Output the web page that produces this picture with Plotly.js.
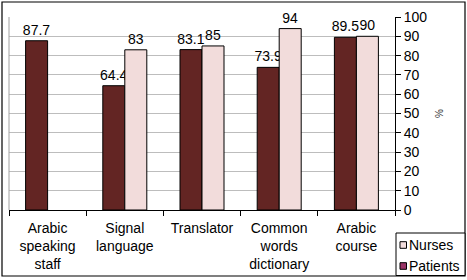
<!DOCTYPE html>
<html>
<head>
<meta charset="utf-8">
<script src="https://cdn.plot.ly/plotly-3.0.1.min.js"></script>
<style>html,body{margin:0;padding:0;background:#fff;}#chart{width:467px;height:280px;}</style>
</head>
<body>
<div id="chart"></div>
<script>
var categories = ["Arabic<br>speaking<br>staff", "Signal<br>language", "Translator", "Common<br>words<br>dictionary", "Arabic<br>course"];
var patients = [87.7, 64.4, 83.1, 73.9, 89.5];
var nurses = [null, 83, 85, 94, 90];
var seriesNames = ["Nurses", "Patients"];
var yTicks = [0, 10, 20, 30, 40, 50, 60, 70, 80, 90, 100];

var W = 467, H = 280;
var m = {l: 9, r: 72, t: 17, b: 70};
var pw = W - m.l - m.r, ph = H - m.t - m.b;
function X(px) { return (px - m.l) / pw; }
function Y(py) { return (H - m.b - py) / ph; }

function labels(arr) { return arr.map(function (v) { return v == null ? "" : String(v); }); }

var font = {family: "Liberation Sans, Arial, sans-serif", size: 14, color: "#000"};

var traces = [
  {type: "bar", name: seriesNames[1], x: categories, y: patients, text: labels(patients),
   textposition: "outside", constraintext: "none", cliponaxis: false, textfont: font,
   marker: {color: "#632523", line: {color: "#000", width: 1}}, showlegend: false, hoverinfo: "x+y"},
  {type: "bar", name: seriesNames[0], x: categories, y: nurses, text: labels(nurses),
   textposition: "outside", constraintext: "none", cliponaxis: false, textfont: font,
   marker: {color: "#F2DCDB", line: {color: "#000", width: 1}}, showlegend: false, hoverinfo: "x+y"}
];

var legendColors = ["#F2DCDB", "#993366"];
var legendY = [245, 266];
var shapes = [
  {type: "rect", xref: "paper", yref: "paper", x0: X(2), x1: X(465), y0: Y(2), y1: Y(276), line: {color: "#000", width: 1.2}},
  {type: "line", xref: "paper", yref: "paper", x0: 0, x1: 0, y0: 0, y1: 1, line: {color: "#A0A0A0", width: 1}},
  {type: "rect", xref: "paper", yref: "paper", x0: X(396), x1: X(465), y0: Y(233), y1: Y(275.5), line: {color: "#000", width: 1}, fillcolor: "#fff"}
];
var annotations = [];
for (var i = 0; i < seriesNames.length; i++) {
  shapes.push({type: "rect", xref: "paper", yref: "paper", x0: X(400), x1: X(406.5), y0: Y(legendY[i] - 3.3), y1: Y(legendY[i] + 3.3),
    line: {color: "#000", width: 1}, fillcolor: legendColors[i]});
  annotations.push({xref: "paper", yref: "paper", x: X(407), y: Y(legendY[i]), xanchor: "left", yanchor: "middle",
    text: seriesNames[i], showarrow: false, font: font});
}

var layout = {
  width: W, height: H,
  margin: m,
  paper_bgcolor: "#fff", plot_bgcolor: "#fff",
  font: font,
  barmode: "group", bargap: 0.43, bargroupgap: 0,
  showlegend: false,
  xaxis: {type: "category", showline: true, linecolor: "#000", linewidth: 1, ticks: "outside", ticklen: 5,
    tickcolor: "#000", tickson: "boundaries", showgrid: false, tickfont: font, ticklabelstandoff: 5, fixedrange: true},
  yaxis: {side: "right", range: [0, 100], tickvals: yTicks, ticktext: yTicks.map(String), showline: true, linecolor: "#000", linewidth: 1,
    ticks: "outside", ticklen: 5, tickcolor: "#000", showgrid: true, gridcolor: "#BDBDBD", gridwidth: 1, zeroline: false,
    tickfont: font, title: {text: "%", font: {family: font.family, size: 10, color: "#333"}, standoff: 9}},
  shapes: shapes,
  annotations: annotations
};

Plotly.newPlot("chart", traces, layout, {displayModeBar: false, staticPlot: true});
</script>
</body>
</html>
